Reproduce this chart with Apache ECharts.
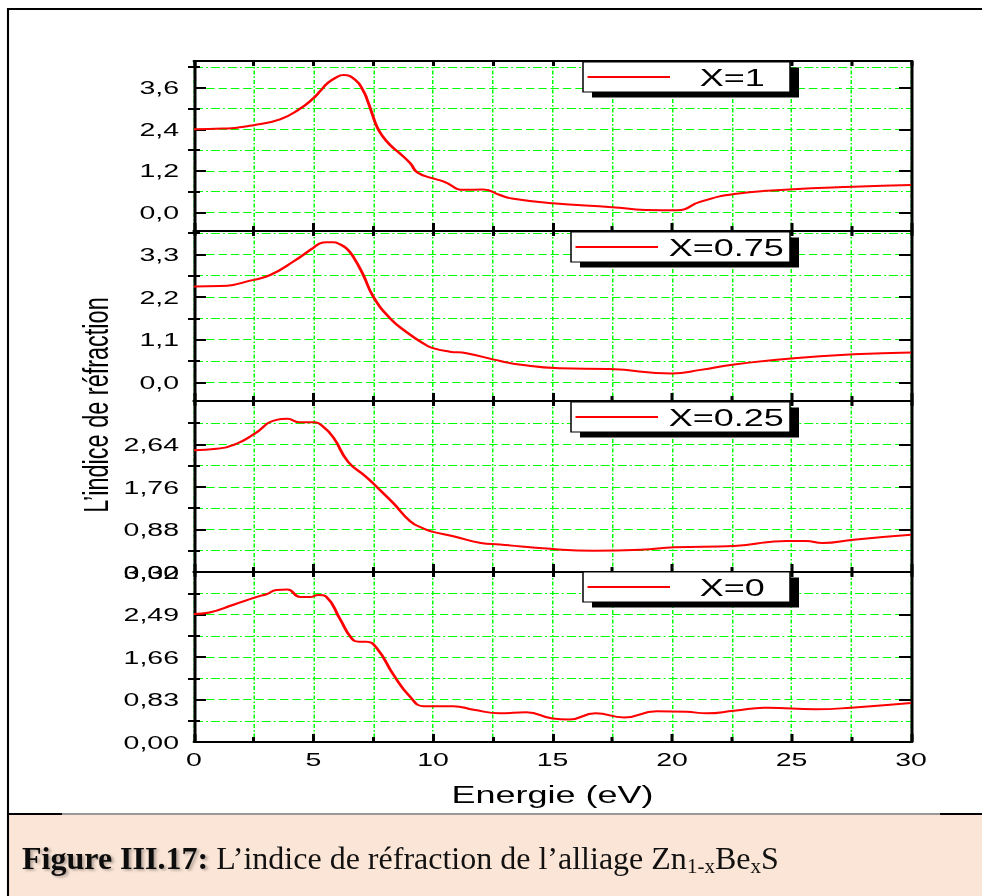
<!DOCTYPE html>
<html>
<head>
<meta charset="utf-8">
<script src="https://cdn.jsdelivr.net/npm/echarts@6/dist/echarts.min.js"></script>
<style>
  html, body { margin: 0; padding: 0; background: #fff; overflow: hidden; }
  /* The figure is laid out in a narrower frame and widened 1.5x on screen. */
  #chart { position: absolute; left: 0; top: 0; width: 655px; height: 896px;
           transform: scaleX(1.5); transform-origin: 0 0; }
</style>
</head>
<body>
<div id="chart"></div>
<script>
// ---- Refractive index n(E) of Zn(1-x)Be(x)S for four compositions ----
const seriesNames = ['X=1', 'X=0.75', 'X=0.25', 'X=0'];

const energyX1 = [0, 1.2, 2.5, 3.6, 4.4, 5.0, 5.3, 5.6, 5.9, 6.25, 6.75, 7.1, 7.25, 7.45, 7.65, 7.85, 8.2, 8.6, 9.05, 9.35, 10.0, 10.45, 11.3, 12.1, 12.8, 13.3, 15.0, 17.5, 18.9, 20.2, 21.2, 22.6, 24.9, 27.6, 30];
const indexX1  = [2.40, 2.42, 2.52, 2.69, 2.98, 3.30, 3.52, 3.74, 3.88, 3.97, 3.83, 3.49, 3.25, 2.86, 2.48, 2.24, 1.95, 1.71, 1.42, 1.15, 0.98, 0.89, 0.65, 0.66, 0.50, 0.40, 0.26, 0.15, 0.07, 0.06, 0.31, 0.53, 0.66, 0.74, 0.79];

const energyX075 = [0, 1.1, 2.5, 3.2, 4.15, 4.95, 5.27, 5.55, 5.83, 6.1, 6.38, 6.66, 7.08, 7.5, 8.2, 8.9, 9.6, 10.0, 10.7, 11.4, 12.5, 13.6, 15.3, 17.4, 20.0, 21.2, 22.6, 25.1, 27.6, 30];
const indexX075  = [2.47, 2.48, 2.64, 2.77, 3.11, 3.45, 3.58, 3.61, 3.61, 3.56, 3.45, 3.24, 2.77, 2.21, 1.65, 1.29, 1.00, 0.88, 0.79, 0.75, 0.59, 0.46, 0.36, 0.34, 0.23, 0.32, 0.46, 0.62, 0.72, 0.77];

const energyX025 = [0, 0.95, 1.8, 2.5, 3.45, 3.9, 4.4, 5.0, 5.4, 5.85, 6.45, 7.2, 7.65, 8.35, 9.05, 9.6, 10.0, 10.85, 12.0, 12.8, 14.9, 16.7, 18.7, 20.1, 22.6, 24.8, 25.6, 26.3, 27.6, 30];
const indexX025  = [2.52, 2.55, 2.66, 2.85, 3.15, 3.17, 3.10, 3.10, 3.01, 2.77, 2.28, 1.97, 1.76, 1.42, 1.05, 0.90, 0.83, 0.74, 0.60, 0.57, 0.48, 0.44, 0.46, 0.51, 0.54, 0.64, 0.64, 0.60, 0.67, 0.77];

const energyX0 = [0, 0.65, 1.65, 2.6, 3.05, 3.45, 3.9, 4.45, 4.85, 5.2, 5.55, 6.1, 6.6, 6.9, 7.2, 7.65, 8.35, 9.05, 9.6, 10.0, 10.85, 11.7, 12.8, 13.9, 15.0, 15.7, 16.8, 18.0, 19.35, 20.6, 21.45, 22.6, 24.0, 26.0, 27.5, 30];
const indexX0  = [2.50, 2.53, 2.68, 2.83, 2.89, 2.97, 2.98, 2.83, 2.83, 2.87, 2.83, 2.41, 2.02, 1.96, 1.96, 1.83, 1.31, 0.88, 0.70, 0.70, 0.70, 0.63, 0.56, 0.58, 0.46, 0.44, 0.56, 0.48, 0.60, 0.59, 0.56, 0.61, 0.67, 0.64, 0.67, 0.76];

// y ticks: labelled (major) and unlabelled (minor) values for each panel
const yMajorX1 = [0, 1.2, 2.4, 3.6];
const yMinorX1 = [0.6, 1.8, 3.0, 4.2];
const yMajorX075 = [0, 1.1, 2.2, 3.3];
const yMinorX075 = [0.55, 1.65, 2.75, 3.85];
const yMajorX025 = [0, 0.88, 1.76, 2.64];
const yMinorX025 = [0.44, 1.32, 2.2, 3.08];
const yMajorX0 = [0, 0.83, 1.66, 2.49, 3.32];
const yMinorX0 = [0.415, 1.245, 2.075, 2.905];
const yRangeX1 = [-0.54, 4.375];
const yRangeX075 = [-0.482, 3.90];
const yRangeX025 = [0, 3.54];
const yRangeX0 = [0, 3.32];
const yDecimals = [1, 1, 2, 2];

// energy axis
const energyMin = 0, energyMax = 30, energyStep = 5;

const panels = [
  { name: seriesNames[0], energy: energyX1,   values: indexX1,   major: yMajorX1,   minor: yMinorX1,   range: yRangeX1,   dec: yDecimals[0] },
  { name: seriesNames[1], energy: energyX075, values: indexX075, major: yMajorX075, minor: yMinorX075, range: yRangeX075, dec: yDecimals[1] },
  { name: seriesNames[2], energy: energyX025, values: indexX025, major: yMajorX025, minor: yMinorX025, range: yRangeX025, dec: yDecimals[2] },
  { name: seriesNames[3], energy: energyX0,   values: indexX0,   major: yMajorX0,   minor: yMinorX0,   range: yRangeX0,   dec: yDecimals[3] }
];

// ---- layout (in the narrow frame's units) ----
const STRETCH = 1.5;
const FRAME_W = 982 / STRETCH;
const PLOT_LEFT = 194 / STRETCH;
const PLOT_WIDTH = (911 - 194) / STRETCH;
const layout = [
  { top: 61,  height: 170, legendLeft: 583 / STRETCH, legendTop: 62,  textW: 73 },
  { top: 231, height: 170, legendLeft: 571 / STRETCH, legendTop: 232, textW: 81 },
  { top: 401, height: 171, legendLeft: 571 / STRETCH, legendTop: 402, textW: 81 },
  { top: 572, height: 170, legendLeft: 583 / STRETCH, legendTop: 572, textW: 73 }
];

const FONT = '"Liberation Sans", Arial, Helvetica, sans-serif';
const SERIF = '"Liberation Serif", "Times New Roman", Times, serif';
const GREEN = '#00ff00';
const BLACK = '#000';
const comma = (v, d) => v.toFixed(d).replace('.', ',');

const vGrid = { color: GREEN, width: 1, type: [4, 2, 1.5, 2] };
const hMajorGrid = { color: GREEN, width: 1, type: [5.5, 2.7] };
const hMinorGrid = { color: GREEN, width: 1, type: [6, 2, 1.3, 2] };
const axisLine = { show: true, onZero: false, lineStyle: { color: BLACK, width: 2 } };

const grid = [], xAxis = [], yAxis = [], series = [], legend = [], graphic = [];

panels.forEach((p, i) => {
  const L = layout[i];
  const last = i === panels.length - 1;
  grid.push({ left: PLOT_LEFT, width: PLOT_WIDTH, top: L.top, height: L.height,
              containLabel: false, outerBoundsMode: 'none' });

  // bottom energy axis with vertical grid every 2.5 eV
  xAxis.push({
    gridIndex: i, type: 'value', position: 'bottom',
    min: energyMin, max: energyMax, interval: energyStep,
    axisLine,
    axisTick: { show: true, inside: true, length: 8, lineStyle: { color: BLACK, width: 2 } },
    minorTick: { show: true, splitNumber: 2, length: 5, lineStyle: { color: BLACK, width: 2 } },
    splitLine: { show: true, lineStyle: vGrid },
    minorSplitLine: { show: true, lineStyle: vGrid },
    axisLabel: { show: last, color: BLACK, fontFamily: FONT, fontSize: 19, margin: 8 },
    name: last ? 'Energie (eV)' : '',
    nameLocation: 'middle', nameGap: 40,
    nameTextStyle: { color: BLACK, fontFamily: FONT, fontSize: 24 }
  });
  // mirrored top axis
  xAxis.push({
    gridIndex: i, type: 'value', position: 'top',
    min: energyMin, max: energyMax, interval: energyStep,
    axisLine,
    axisTick: { show: true, inside: true, length: 5, lineStyle: { color: BLACK, width: 2 } },
    minorTick: { show: true, splitNumber: 2, length: 5, lineStyle: { color: BLACK, width: 2 } },
    splitLine: { show: false }, minorSplitLine: { show: false },
    axisLabel: { show: false }
  });

  const yBase = { gridIndex: i, type: 'value', min: p.range[0], max: p.range[1] };
  // left, labelled
  yAxis.push(Object.assign({}, yBase, {
    position: 'left', axisLine,
    axisTick: { show: true, inside: true, length: 8, customValues: p.major, lineStyle: { color: BLACK, width: 2 } },
    axisLabel: { show: true, customValues: p.major, formatter: v => comma(v, p.dec),
                 color: BLACK, fontFamily: FONT, fontSize: 19, margin: 10 },
    splitLine: { show: true, lineStyle: hMajorGrid }
  }));
  // left, minor
  yAxis.push(Object.assign({}, yBase, {
    position: 'left', axisLine: { show: false },
    axisTick: { show: true, inside: true, length: 4, customValues: p.minor, lineStyle: { color: BLACK, width: 2 } },
    axisLabel: { show: false },
    splitLine: { show: true, lineStyle: hMinorGrid }
  }));
  // right, major
  yAxis.push(Object.assign({}, yBase, {
    position: 'right', axisLine,
    axisTick: { show: true, inside: true, length: 8, customValues: p.major, lineStyle: { color: BLACK, width: 2 } },
    axisLabel: { show: false }, splitLine: { show: false }
  }));
  // right, minor
  yAxis.push(Object.assign({}, yBase, {
    position: 'right', axisLine: { show: false },
    axisTick: { show: true, inside: true, length: 4, customValues: p.minor, lineStyle: { color: BLACK, width: 2 } },
    axisLabel: { show: false }, splitLine: { show: false }
  }));

  series.push({
    name: p.name, type: 'line',
    xAxisIndex: 2 * i, yAxisIndex: 4 * i,
    data: p.energy.map((e, k) => [e, p.values[k]]),
    smooth: 0.5,
    symbol: 'none', showSymbol: false,
    lineStyle: { color: '#ff0000', width: 2 },
    itemStyle: { color: '#ff0000' },
    z: 3
  });

  // legend box with a solid offset shadow
  const boxW = 3 + 55 + 5 + L.textW + 2;
  legend.push({
    data: [p.name], left: L.legendLeft, top: L.legendTop,
    orient: 'horizontal', padding: [3, 2, 3, 3],
    icon: 'rect', itemWidth: 55, itemHeight: 2,
    itemStyle: { color: '#ff0000', borderWidth: 0 },
    backgroundColor: '#fff', borderColor: BLACK, borderWidth: 1, borderRadius: 0,
    selectedMode: false, z: 10,
    formatter: name => '{t|' + name + '}',
    textStyle: {
      color: BLACK, fontFamily: FONT, fontSize: 24,
      rich: { t: { width: L.textW, align: 'center', color: BLACK, fontFamily: FONT, fontSize: 24, lineHeight: 24 } }
    }
  });
  graphic.push({
    type: 'rect', z: 9, silent: true,
    shape: { x: L.legendLeft + 6, y: L.legendTop + 5.5, width: boxW, height: 30 },
    style: { fill: BLACK }
  });
});

// common y title
graphic.push({
  type: 'text', x: 63.5, y: 405, rotation: Math.PI / 2, z: 5,
  style: { text: 'L\u2019indice de réfraction', fill: BLACK, font: '23.5px ' + FONT,
           align: 'center', verticalAlign: 'middle', textAlign: 'center', textVerticalAlign: 'middle' }
});

// outer frame and caption panel
graphic.push(
  { type: 'rect', z: 1, silent: true, shape: { x: 6, y: 815, width: FRAME_W - 6, height: 81 }, style: { fill: '#fbe5d6' } },
  { type: 'line', z: 6, silent: true, shape: { x1: 5.33, y1: 9, x2: FRAME_W, y2: 9 }, style: { stroke: BLACK, lineWidth: 2 } },
  { type: 'line', z: 6, silent: true, shape: { x1: 5.33, y1: 8, x2: 5.33, y2: 896 }, style: { stroke: BLACK, lineWidth: 1.4 } },
  { type: 'line', z: 6, silent: true, shape: { x1: 5.33, y1: 814, x2: 41.3, y2: 814 }, style: { stroke: BLACK, lineWidth: 2 } },
  { type: 'line', z: 6, silent: true, shape: { x1: 41.3, y1: 814, x2: 626.7, y2: 814 }, style: { stroke: '#333', lineWidth: 1 } },
  { type: 'line', z: 6, silent: true, shape: { x1: 626.7, y1: 814, x2: FRAME_W, y2: 814 }, style: { stroke: BLACK, lineWidth: 2 } },
  {
    type: 'text', z: 7, x: 22 / STRETCH, y: 858, scaleX: 1 / STRETCH, scaleY: 1,
    style: {
      text: '{b|Figure III.17:}{r| L\u2019indice de réfraction de l\u2019alliage Zn}{s|1-x}{r|Be}{s|x}{r|S}',
      verticalAlign: 'middle', textVerticalAlign: 'middle',
      rich: {
        b: { font: 'bold 32px ' + SERIF, fill: '#111', color: '#111', lineHeight: 36,
             textShadowColor: 'rgba(0,0,0,0.3)', textShadowBlur: 2, textShadowOffsetX: 1.5, textShadowOffsetY: 1.5 },
        r: { font: '32px ' + SERIF, fill: '#111', color: '#111', lineHeight: 36 },
        s: { font: '21px ' + SERIF, fill: '#111', color: '#111', lineHeight: 20, verticalAlign: 'bottom' }
      }
    }
  }
);

const chart = echarts.init(document.getElementById('chart'), null, { renderer: 'svg', width: 655, height: 896 });
chart.setOption({
  backgroundColor: '#fff',
  animation: false,
  grid, xAxis, yAxis, series, legend, graphic
});
</script>
</body>
</html>
